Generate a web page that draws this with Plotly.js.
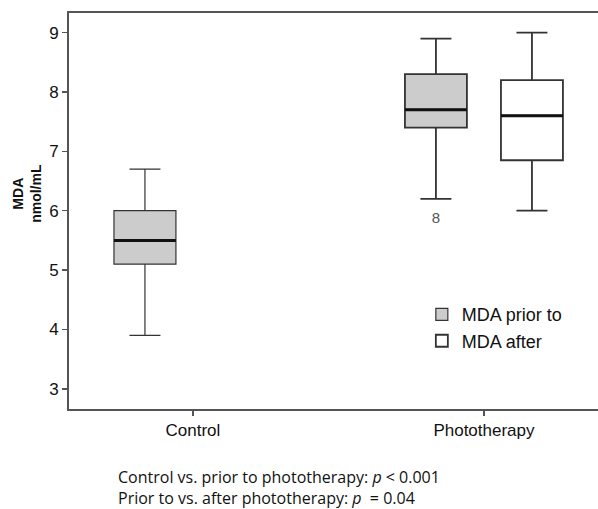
<!DOCTYPE html>
<html>
<head>
<meta charset="utf-8">
<script src="https://cdn.plot.ly/plotly-3.0.1.min.js"></script>
<style>html,body{margin:0;padding:0;background:#fff;}#chart{width:598px;height:509px;}</style>
</head>
<body>
<div id="chart"></div>
<script>
// ---- data ----
var categories = ['Control', 'Phototherapy'];
var seriesNames = ['MDA prior to', 'MDA after'];
// MDA prior to phototherapy (Control group, Phototherapy group)
var priorLower  = [3.9, 6.2];
var priorQ1     = [5.1, 7.4];
var priorMedian = [5.5, 7.7];
var priorQ3     = [6.0, 8.3];
var priorUpper  = [6.7, 8.9];
// MDA after phototherapy (Phototherapy group only)
var afterCats   = ['Phototherapy'];
var afterLower  = [6.0];
var afterQ1     = [6.85];
var afterMedian = [7.6];
var afterQ3     = [8.2];
var afterUpper  = [9.0];
// outlier (case label)
var outlierCat   = ['Phototherapy'];
var outlierValue = [5.85];
var outlierLabel = ['8'];
var yTicks = [3, 4, 5, 6, 7, 8, 9];
var noteLines = [
  'Control vs. prior to phototherapy: <i>p</i> &lt; 0.001',
  'Prior to vs. after phototherapy: <i>p</i>  = 0.04'
];

// ---- layout constants ----
var groupOffset = 0.165;
var boxWidth = 0.213;
var lineCol = '#333333';
var fills = ['#cccccc', '#ffffff'];
var lineWidthByCat = {'Control': 1.2, 'Phototherapy': 1.8};

function catPos(c) { return categories.indexOf(c); }

var traces = [];
function addSeries(si, cats, lo, q1, med, q3, up) {
  var off = si === 0 ? -groupOffset : groupOffset;
  cats.forEach(function (c, i) {
    var xp = catPos(c) + off;
    traces.push({
      type: 'box',
      name: seriesNames[si],
      legendgroup: seriesNames[si],
      showlegend: i === 0,
      x: [xp],
      lowerfence: [lo[i]], q1: [q1[i]], median: [med[i]], q3: [q3[i]], upperfence: [up[i]],
      width: boxWidth,
      whiskerwidth: 0.5,
      fillcolor: fills[si],
      line: {color: lineCol, width: lineWidthByCat[c]},
      boxpoints: false,
      hoverinfo: 'skip'
    });
    traces.push({
      type: 'scatter', mode: 'lines', showlegend: false, hoverinfo: 'skip',
      x: [xp - boxWidth / 2, xp + boxWidth / 2], y: [med[i], med[i]],
      line: {color: '#111111', width: 3}
    });
  });
}
addSeries(0, categories, priorLower, priorQ1, priorMedian, priorQ3, priorUpper);
addSeries(1, afterCats, afterLower, afterQ1, afterMedian, afterQ3, afterUpper);

traces.push({
  type: 'scatter', mode: 'text', showlegend: false, hoverinfo: 'skip',
  x: outlierCat.map(function (c) { return catPos(c) - groupOffset; }),
  y: outlierValue, text: outlierLabel,
  textposition: 'middle center',
  textfont: {family: 'Liberation Sans, Arial, sans-serif', size: 15, color: '#555555'}
});

var annotations = [
  {
    xref: 'paper', yref: 'paper', x: -0.08, y: 0.545,
    xanchor: 'center', yanchor: 'middle', textangle: -90,
    text: '<b>MDA</b><br><b>nmol/mL</b>', showarrow: false,
    font: {size: 14, color: '#111111'}
  },
  {
    xref: 'paper', yref: 'paper', x: 0.0907, y: -0.198,
    xanchor: 'left', yanchor: 'middle', align: 'left', borderpad: 0,
    text: noteLines.join('<br>'), showarrow: false,
    font: {family: 'Open Sans, sans-serif', size: 16, color: '#111111'}
  }
];

var layout = {
  width: 598, height: 509,
  margin: {l: 69, r: 0, t: 13, b: 100},
  paper_bgcolor: '#ffffff', plot_bgcolor: '#ffffff',
  font: {family: 'Liberation Sans, Arial, sans-serif', size: 17, color: '#111111'},
  showlegend: true,
  legend: {
    x: 0.667, y: 0.285, xanchor: 'left', yanchor: 'top',
    bgcolor: 'rgba(0,0,0,0)', borderwidth: 0, tracegroupgap: 0,
    font: {size: 18, color: '#111111'}
  },
  xaxis: {
    type: 'linear',
    range: [-0.426, 1.392],
    tickvals: categories.map(function (c, i) { return i; }),
    ticktext: categories,
    ticks: 'outside', ticklen: 5, tickwidth: 1.5, tickcolor: '#555555',
    showline: true, linecolor: '#555555', linewidth: 2, mirror: true,
    showgrid: false, zeroline: false,
    tickfont: {size: 17, color: '#111111'}
  },
  yaxis: {
    range: [2.66, 9.33],
    tickvals: yTicks,
    ticks: 'outside', ticklen: 5, tickwidth: 1.5, tickcolor: '#555555',
    showline: true, linecolor: '#555555', linewidth: 2,
    showgrid: false, zeroline: false,
    tickfont: {size: 17, color: '#111111'}
  },
  annotations: annotations
};

Plotly.newPlot('chart', traces, layout, {displayModeBar: false, staticPlot: true});
</script>
</body>
</html>
